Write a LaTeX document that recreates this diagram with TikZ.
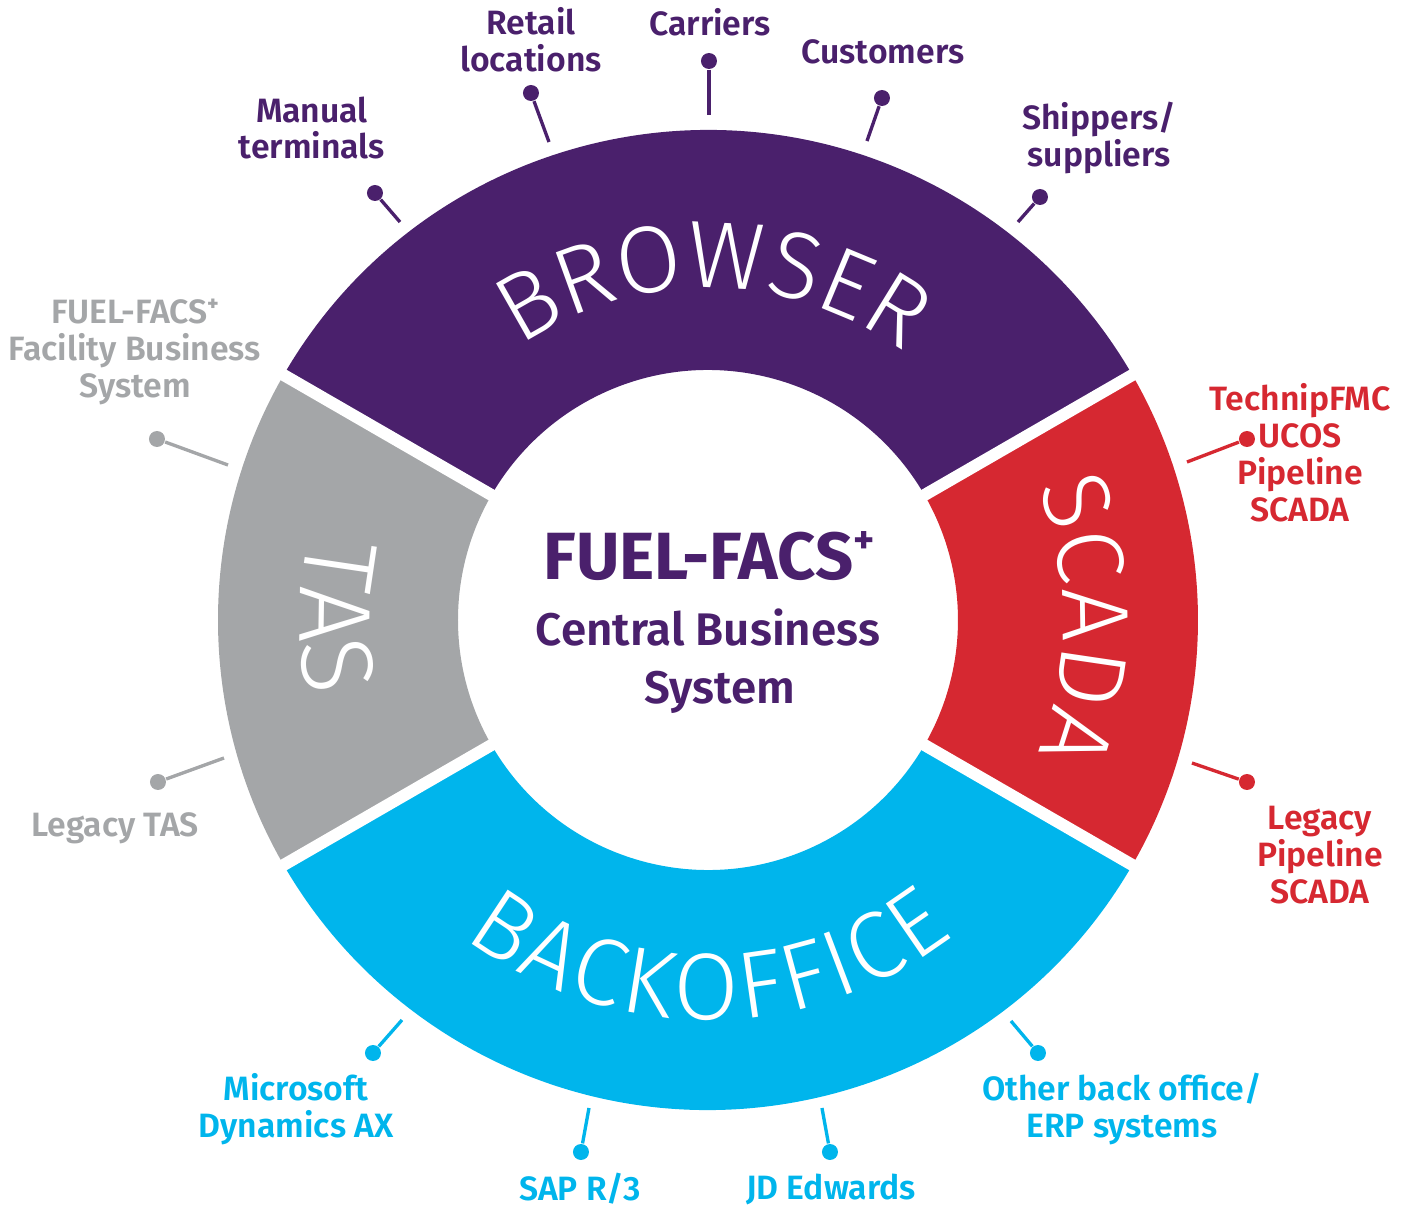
\documentclass[tikz,border=0pt]{standalone}
\usepackage{fontspec}
\setmainfont{Fira Sans}
\IfFontExistsTF{Fira Sans SemiBold}{\newfontfamily\lblfont{Fira Sans SemiBold}}{\newcommand\lblfont{\bfseries}}
\IfFontExistsTF{Fira Sans Light}{\newfontfamily\ringfont{Fira Sans Light}}{\newcommand\ringfont{\normalfont}}
\usetikzlibrary{decorations.text}
\definecolor{ffpurple}{RGB}{74,32,108}
\definecolor{ffred}{RGB}{214,40,49}
\definecolor{ffcyan}{RGB}{0,181,236}
\definecolor{ffgray}{RGB}{164,166,168}
\newcommand\rIn{2.5}
\newcommand\rOut{4.9}
\newcommand\facsplus{\raisebox{0.75ex}{\fontsize{0.6em}{0.6em}\selectfont\bfseries+}}
\tikzstyle{gap}=[white,line width=0.12cm]
\tikzstyle{pindot}=[circle,fill,inner sep=0pt,minimum size=0.16cm]
\tikzstyle{pinline}=[line width=0.95pt]
\tikzstyle{lbl}=[align=center,inner sep=0pt,
  font=\lblfont\fontsize{9.6}{10.5}\selectfont]
\tikzstyle{ringlbl}=[decorate]

\begin{document}
\begin{tikzpicture}
  \useasboundingbox (-7.08,-5.89) rectangle (7.05,6.20);

  % ring segments
  \fill[ffpurple] (30:\rIn) arc (30:150:\rIn) -- (150:\rOut) arc (150:30:\rOut) -- cycle;
  \fill[ffgray] (150:\rIn) arc (150:210:\rIn) -- (210:\rOut) arc (210:150:\rOut) -- cycle;
  \fill[ffcyan] (210:\rIn) arc (210:330:\rIn) -- (330:\rOut) arc (330:210:\rOut) -- cycle;
  \fill[ffred] (-30:\rIn) arc (-30:30:\rIn) -- (30:\rOut) arc (30:-30:\rOut) -- cycle;
  \draw[gap] (30:2.3) -- (30:5.1);
  \draw[gap] (150:2.3) -- (150:5.1);
  \draw[gap] (210:2.3) -- (210:5.1);
  \draw[gap] (330:2.3) -- (330:5.1);

  % words along the ring
  \path[ringlbl,decoration={text along path,text align={fit to path},
    text={|\ringfont\fontsize{27}{27}\selectfont\color{white}|BROWSER}}]
    (124.5:3.32) arc (124.5:57:3.32);
  \path[ringlbl,decoration={text along path,text align={fit to path},
    text={|\ringfont\fontsize{27}{27}\selectfont\color{white}|BACKOFFICE}}]
    (-127.5:4.0) arc (-127.5:-52:4.0);
  \path[ringlbl,decoration={text along path,text align={fit to path},
    text={|\ringfont\fontsize{27}{27}\selectfont\color{white}|SCADA}}]
    (22:3.55) arc (22:-22:3.55);
  \path[ringlbl,decoration={text along path,text align={fit to path},
    text={|\ringfont\fontsize{29}{29}\selectfont\color{white}|TAS}}]
    (168:4.08) arc (168:188.3:4.08);

  % centre
  \node[anchor=base,text=ffpurple,font=\bfseries\fontsize{19}{21}\selectfont]
    (title) at (0.01,0.40) {FUEL-FACS\facsplus};
  \node[anchor=base,text=ffpurple,font=\lblfont\fontsize{13}{15}\selectfont]
    (central) at (0,-0.25) {Central Business};
  \node[anchor=base,text=ffpurple,font=\lblfont\fontsize{13}{15}\selectfont]
    (system) at (0.12,-0.83) {System};

  % browser side
  \begin{scope}[ffpurple]
    \node[pindot] (manualdot) at (-3.33,4.27) {};
    \coordinate (manualend) at (-3.08,3.98);
    \node[lbl] (manual) at (-3.96,4.92) {Manual\\terminals};
    \node[pindot] (retaildot) at (-1.77,5.27) {};
    \coordinate (retailend) at (-1.59,4.78);
    \node[lbl] (retail) at (-1.77,5.80) {Retail\\locations};
    \node[pindot] (carrierdot) at (0.01,5.59) {};
    \coordinate (carrierend) at (0.01,5.05);
    \node[lbl] (carrier) at (0.02,5.98) {Carriers};
    \node[pindot] (customerdot) at (1.74,5.22) {};
    \coordinate (customerend) at (1.59,4.79);
    \node[lbl] (customer) at (1.75,5.68) {Customers};
    \node[pindot] (shipperdot) at (3.32,4.23) {};
    \coordinate (shipperend) at (3.10,3.98);
    \node[lbl] (shipper) at (3.91,4.82) {Shippers/\\suppliers};
    \draw[pinline] (manualdot) -- (manualend);
    \draw[pinline] (retaildot) -- (retailend);
    \draw[pinline] (carrierdot) -- (carrierend);
    \draw[pinline] (customerdot) -- (customerend);
    \draw[pinline] (shipperdot) -- (shipperend);
  \end{scope}

  % tas side
  \begin{scope}[ffgray]
    \node[pindot] (facilitydot) at (-5.51,1.81) {};
    \coordinate (facilityend) at (-4.80,1.55);
    \node[lbl] (facility) at (-5.73,2.68) {FUEL-FACS\facsplus\\Facility Business\\System};
    \node[pindot] (legtasdot) at (-5.50,-1.62) {};
    \coordinate (legtasend) at (-4.84,-1.38);
    \node[lbl] (legtas) at (-5.93,-2.08) {Legacy TAS};
    \draw[pinline] (facilitydot) -- (facilityend);
    \draw[pinline] (legtasdot) -- (legtasend);
  \end{scope}

  % scada side
  \begin{scope}[ffred]
    \node[pindot] (ucosdot) at (5.39,1.81) {};
    \coordinate (ucosend) at (4.79,1.58);
    \node[lbl] (ucos) at (5.92,1.67) {TechnipFMC\\UCOS\\Pipeline\\SCADA};
    \node[pindot] (legpipedot) at (5.39,-1.62) {};
    \coordinate (legpipeend) at (4.84,-1.43);
    \node[lbl] (legpipe) at (6.12,-2.35) {Legacy\\Pipeline\\SCADA};
    \draw[pinline] (ucosdot) -- (ucosend);
    \draw[pinline] (legpipedot) -- (legpipeend);
  \end{scope}

  % back office side
  \begin{scope}[ffcyan]
    \node[pindot] (msdot) at (-3.35,-4.33) {};
    \coordinate (msend) at (-3.06,-4.00);
    \node[lbl] (ms) at (-4.12,-4.89) {Microsoft\\Dynamics AX};
    \node[pindot] (sapdot) at (-1.27,-5.32) {};
    \coordinate (sapend) at (-1.19,-4.88);
    \node[lbl] (sap) at (-1.28,-5.69) {SAP R/3};
    \node[pindot] (jddot) at (1.22,-5.32) {};
    \coordinate (jdend) at (1.14,-4.88);
    \node[lbl] (jd) at (1.23,-5.69) {JD Edwards};
    \node[pindot] (erpdot) at (3.30,-4.33) {};
    \coordinate (erpend) at (3.03,-4.01);
    \node[lbl] (erp) at (4.14,-4.89) {Other back office/\\ERP systems};
    \draw[pinline] (msdot) -- (msend);
    \draw[pinline] (sapdot) -- (sapend);
    \draw[pinline] (jddot) -- (jdend);
    \draw[pinline] (erpdot) -- (erpend);
  \end{scope}
\end{tikzpicture}
\end{document}
